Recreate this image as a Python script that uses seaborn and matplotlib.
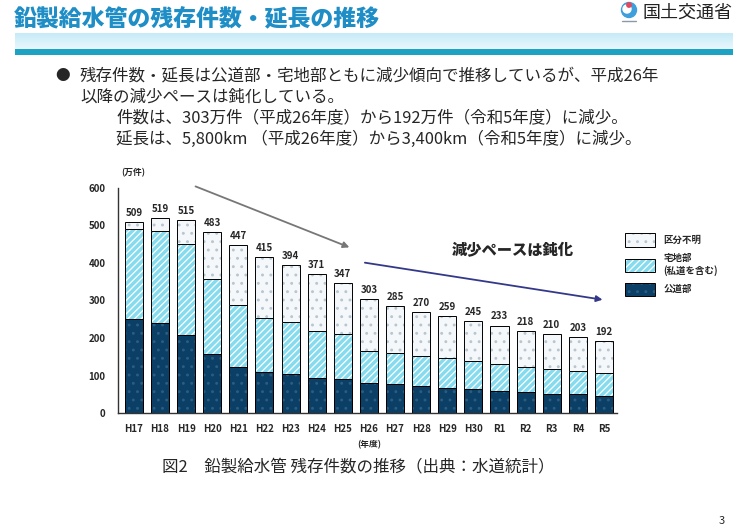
import numpy as np
import pandas as pd
import matplotlib.pyplot as plt
import seaborn as sns
from matplotlib.patches import Patch, Circle
from matplotlib.legend_handler import HandlerTuple

# ==============================
# データ（万件）
# ==============================
years = ["H17", "H18", "H19", "H20", "H21", "H22", "H23", "H24", "H25", "H26",
         "H27", "H28", "H29", "H30", "R1", "R2", "R3", "R4", "R5"]
koudou = [251, 241, 207, 158, 124, 109, 103, 93, 90, 81,
          77, 71, 67, 64, 58, 55, 52, 50, 45]          # 公道部
takuchi = [240, 245, 244, 199, 164, 144, 139, 127, 122, 85,
           82, 80, 79, 75, 73, 67, 65, 63, 63]          # 宅地部（私道を含む）
fumei = [18, 33, 64, 126, 159, 162, 152, 151, 135, 137,
         126, 119, 113, 106, 102, 96, 93, 90, 84]       # 区分不明
totals = [509, 519, 515, 483, 447, 415, 394, 371, 347, 303,
          285, 270, 259, 245, 233, 218, 210, 203, 192]
yticks = [0, 100, 200, 300, 400, 500, 600]

df = pd.DataFrame({"year": years, "koudou": koudou, "takuchi": takuchi, "fumei": fumei})
df["cum_takuchi"] = df["koudou"] + df["takuchi"]
df["cum_all"] = df["cum_takuchi"] + df["fumei"]

c_koudou = "#0b3f66"
c_takuchi = "#86dcee"
c_fumei = "#f5f8fa"

sns.set_style("white")
plt.rcParams["font.family"] = ["Noto Sans CJK JP", "DejaVu Sans"]
plt.rcParams["hatch.linewidth"] = 0.9

fig = plt.figure(figsize=(7.5, 5.32), dpi=100)

# ==============================
# ヘッダー（背景）
# ==============================
bg = fig.add_axes([0, 0, 1, 1])
bg.set_xlim(0, 750)
bg.set_ylim(532, 0)
bg.axis("off")
grad = np.linspace(0, 1, 50).reshape(-1, 1)
bg.imshow(grad, extent=[15, 733, 49, 33], aspect="auto",
          cmap=sns.blend_palette(["#c6ebf7", "#e9f7fc"], as_cmap=True), zorder=1)
bg.fill_between([15, 733], 49, 55, color="#1ea2c3", lw=0, zorder=2)
bg.add_patch(Circle((629, 10), 7.5, color="#3f9fdc", zorder=3))
bg.add_patch(Circle((627, 9), 4, color="white", zorder=4))
bg.add_patch(Circle((629, 5), 2.2, color="#e04a5a", zorder=5))
bg.plot([622, 636], [21, 21], color="#8a9aa6", lw=1)

fig.text(14 / 750, 1 - 19 / 532, "鉛製給水管の残存件数・延長の推移", color="#1f8ec6",
         fontsize=16.5, fontweight="black", va="center", ha="left")
fig.text(643 / 750, 1 - 13 / 532, "国土交通省", color="#222222", fontsize=13,
         va="center", ha="left")

# 本文
fig.text(55 / 750, 1 - 76 / 532, "●", fontsize=10.5, va="center", ha="left")
fig.text(80 / 750, 1 - 76 / 532,
         "残存件数・延長は公道部・宅地部ともに減少傾向で推移しているが、平成26年",
         fontsize=11.9, va="center", ha="left")
fig.text(80 / 750, 1 - 97 / 532, "以降の減少ペースは鈍化している。",
         fontsize=11.9, va="center", ha="left")
fig.text(116 / 750, 1 - 118 / 532,
         "件数は、303万件（平成26年度）から192万件（令和5年度）に減少。",
         fontsize=11.9, va="center", ha="left")
fig.text(116 / 750, 1 - 139 / 532,
         "延長は、5,800km （平成26年度）から3,400km（令和5年度）に減少。",
         fontsize=11.9, va="center", ha="left")

# ==============================
# 積み上げ棒グラフ
# ==============================
ax = fig.add_axes([118 / 750, 1 - 413 / 532, (617 - 118) / 750, (413 - 188) / 532])
ax.patch.set_alpha(0)

layers = [
    ("cum_all", c_fumei, "#b9c6cf", ".."),
    ("cum_takuchi", c_takuchi, "white", "/////"),
    ("koudou", c_koudou, "#2a5d82", ".."),
]
for col, fc, hc, hatch in layers:
    sns.barplot(data=df, x="year", y=col, order=years, color=fc, width=0.69,
                saturation=1, edgecolor=hc, linewidth=0, hatch=hatch, ax=ax)
    sns.barplot(data=df, x="year", y=col, order=years, color="black", width=0.69,
                fill=False, linewidth=0.7, ax=ax)

for i, t in enumerate(totals):
    ax.annotate(str(t), (i, t), xytext=(0, 3), textcoords="offset points",
                ha="center", va="bottom", fontsize=7, fontweight="bold")

ax.set_xlim(-0.61, 18.5)
ax.set_ylim(0, 600)
ax.set_yticks(yticks)
ax.set_xlabel("")
ax.set_ylabel("")
ax.tick_params(axis="both", length=0, labelsize=7)
ax.tick_params(axis="y", pad=9)
ax.tick_params(axis="x", pad=8)
for lab in ax.get_xticklabels() + ax.get_yticklabels():
    lab.set_fontweight("bold")
sns.despine(ax=ax)
for s in ["left", "bottom"]:
    ax.spines[s].set_color("#333333")
    ax.spines[s].set_linewidth(1.0)

ax.text(0.03, 640, "(万件)", fontsize=6.3, fontweight="bold", ha="center",
        va="center", clip_on=False, transform=ax.get_yaxis_transform())
ax.text(9, -84, "(年度)", fontsize=6.3, fontweight="bold", ha="center", va="center",
        clip_on=False)

# 矢印
ax.annotate("", xy=(8.35, 439), xytext=(2.26, 607), annotation_clip=False,
            arrowprops=dict(arrowstyle="-|>", color="#777777", lw=1.3, mutation_scale=9))
ax.annotate("", xy=(18.05, 301), xytext=(8.74, 402), annotation_clip=False,
            arrowprops=dict(arrowstyle="-|>", color="#34388a", lw=1.3, mutation_scale=9))
ax.text(14.5, 434, "減少ペースは鈍化", fontsize=11, fontweight="black",
        ha="center", va="center")

# 凡例
handles = [
    (Patch(facecolor=c_fumei, edgecolor="#b9c6cf", hatch="..", lw=0),
     Patch(facecolor="none", edgecolor="black", lw=0.7)),
    (Patch(facecolor=c_takuchi, edgecolor="white", hatch="/////", lw=0),
     Patch(facecolor="none", edgecolor="black", lw=0.7)),
    (Patch(facecolor=c_koudou, edgecolor="#2a5d82", hatch="..", lw=0),
     Patch(facecolor="none", edgecolor="black", lw=0.7)),
]
labels = ["区分不明", "宅地部\n(私道を含む)", "公道部"]
leg = fig.legend(handles, labels, loc="upper left",
                 bbox_to_anchor=(616 / 750, 1 - 225 / 532), frameon=False,
                 handler_map={tuple: HandlerTuple(ndivide=1)},
                 prop={"size": 6.8, "weight": "bold"},
                 handlelength=3.2, handleheight=1.8, labelspacing=0.7,
                 handletextpad=0.9)
for t in leg.get_texts():
    t.set_multialignment("left")

# キャプション
fig.text(358 / 750, 1 - 467 / 532, "図2　鉛製給水管 残存件数の推移（出典：水道統計）",
         fontsize=11.9, ha="center", va="center")
fig.text(722 / 750, 1 - 521 / 532, "3", fontsize=8, ha="center", va="center")

fig.savefig("out.png", dpi=100)
